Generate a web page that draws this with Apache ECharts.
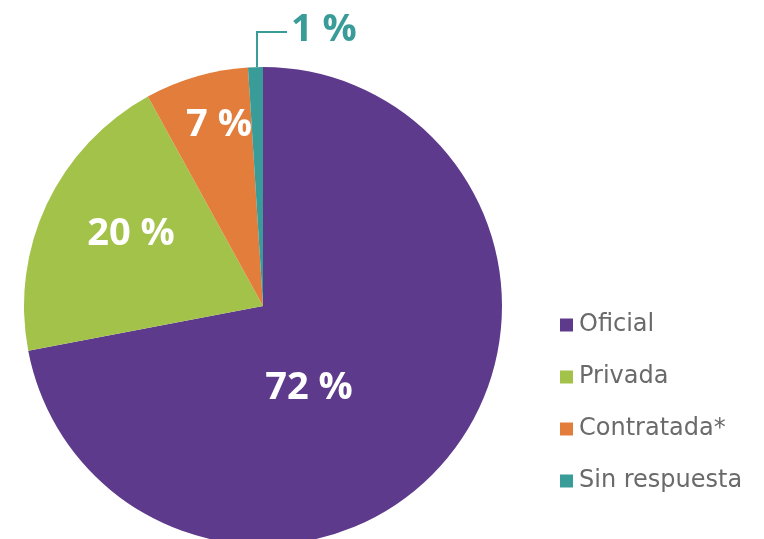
<!DOCTYPE html>
<html>
<head>
<meta charset="utf-8">
<script src="https://cdn.jsdelivr.net/npm/echarts@6/dist/echarts.min.js"></script>
<style>
  html, body { margin: 0; padding: 0; background: #fff; }
  #chart { width: 764px; height: 539px; }
</style>
</head>
<body>
<div id="chart"></div>
<script>
const categories = ["Oficial", "Privada", "Contratada*", "Sin respuesta"];
const values = [72, 20, 7, 1];
const colors = ["#5e3a8c", "#a3c24a", "#e27d3c", "#3a9c98"];

const chart = echarts.init(document.getElementById("chart"));

// posiciones de las etiquetas como en la imagen original
const labelSpots = [
  { x: 309, y: 388, align: "center" },
  { x: 131, y: 234, align: "center" },
  { x: 219, y: 125, align: "center" },
  { x: 291, y: 30, align: "left" }
];

const data = categories.map((name, i) => {
  const item = { name: name, value: values[i], itemStyle: { color: colors[i] } };
  if (i === 3) {
    item.label = { position: "outside", color: colors[i], fontSize: 38 };
    item.labelLine = { show: true, lineStyle: { color: colors[i], width: 2 } };
  }
  return item;
});

chart.setOption({
  animation: false,
  legend: {
    orient: "vertical",
    left: 555,
    top: 308,
    itemWidth: 13,
    itemHeight: 13,
    itemGap: 28,
    icon: "rect",
    data: categories,
    textStyle: {
      fontFamily: "DejaVu Sans",
      fontSize: 24,
      lineHeight: 24,
      color: "#6a6a6a",
      padding: [0, 0, 0, 1]
    }
  },
  series: [
    {
      type: "pie",
      center: [263, 306],
      radius: 239,
      startAngle: 90,
      clockwise: true,
      silent: true,
      data: data,
      label: {
        position: "inside",
        formatter: "{c} %",
        color: "#ffffff",
        fontFamily: "Open Sans",
        fontWeight: "bold",
        fontSize: 38
      },
      labelLine: { show: false },
      labelLayout: function (params) {
        const s = labelSpots[params.dataIndex];
        const out = { x: s.x, y: s.y, align: s.align, verticalAlign: "middle" };
        if (params.dataIndex === 3) {
          out.labelLinePoints = [[257, 67], [257, 32], [287, 32]];
        }
        return out;
      }
    }
  ]
});
</script>
</body>
</html>
